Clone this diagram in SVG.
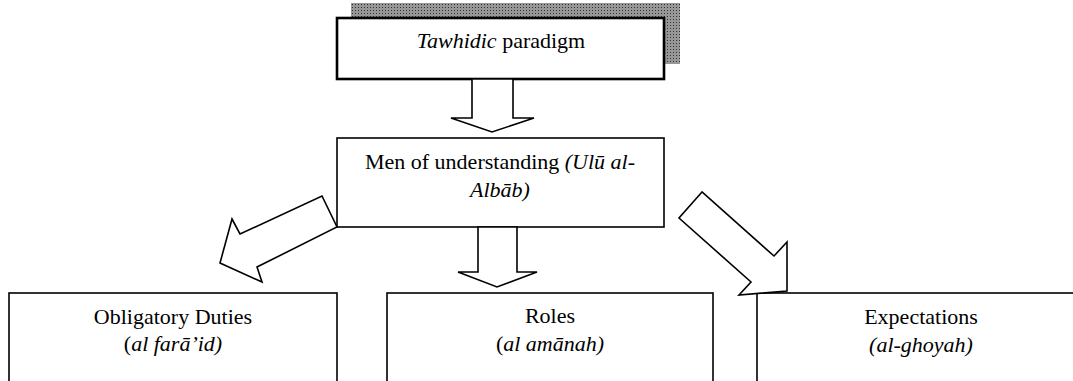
<svg xmlns="http://www.w3.org/2000/svg" width="1073" height="381" viewBox="0 0 1073 381">
<defs>
<pattern id="dots" width="3" height="3" patternUnits="userSpaceOnUse">
<rect width="3" height="3" fill="#979797"/>
<rect x="1" y="1" width="1" height="1" fill="#333"/>
</pattern>
</defs>
<style>
.box{fill:#fff;stroke:#000;stroke-width:1.6}
.thick{stroke-width:2.6}
.arrow{fill:#fff;stroke:#000;stroke-width:1.6;stroke-linejoin:miter}
text{font-family:"Liberation Serif","Times New Roman",serif;font-size:22px;fill:#000;text-anchor:middle}
.i{font-style:italic}
</style>
<rect width="1073" height="381" fill="#fff"/>
<g id="node-tawhidic">
<rect x="351" y="3" width="329" height="61" fill="url(#dots)"/>
<rect class="box thick" x="337" y="18" width="327" height="61"/>
<text x="501" y="48"><tspan class="i">Tawhidic</tspan> paradigm</text>
</g>
<g id="node-men">
<rect class="box" x="337" y="138" width="327" height="89"/>
<text x="500" y="169">Men of understanding <tspan class="i">(Ulū al-</tspan></text>
<text x="500" y="197" class="i">Albāb)</text>
</g>
<g id="node-duties">
<rect class="box" x="9" y="293" width="328" height="94"/>
<text x="173" y="324">Obligatory Duties</text>
<text x="173" y="351">(<tspan class="i">al farā’id)</tspan></text>
</g>
<g id="node-roles">
<rect class="box" x="387" y="293" width="326" height="94"/>
<text x="550" y="323">Roles</text>
<text x="550" y="351">(<tspan class="i">al amānah)</tspan></text>
</g>
<g id="node-expectations">
<rect class="box" x="757" y="293" width="330" height="94"/>
<text x="921" y="324">Expectations</text>
<text x="921" y="352" class="i">(al-ghoyah)</text>
</g>
<g id="connectors">
<polygon class="arrow" points="472,79 513,79 513,118 534,118 492,132 451,118 472,118"/>
<polygon class="arrow" points="478,227 517,227 517,272 537,272 497,287 458,272 478,272"/>
<polygon class="arrow" points="322,196 337,227 257,267 262,282 220,263 232,219 240,234"/>
<polygon class="arrow" points="702,192 679,218 751,282 739,295 787,291 787,242 774,256"/>
</g>
</svg>
